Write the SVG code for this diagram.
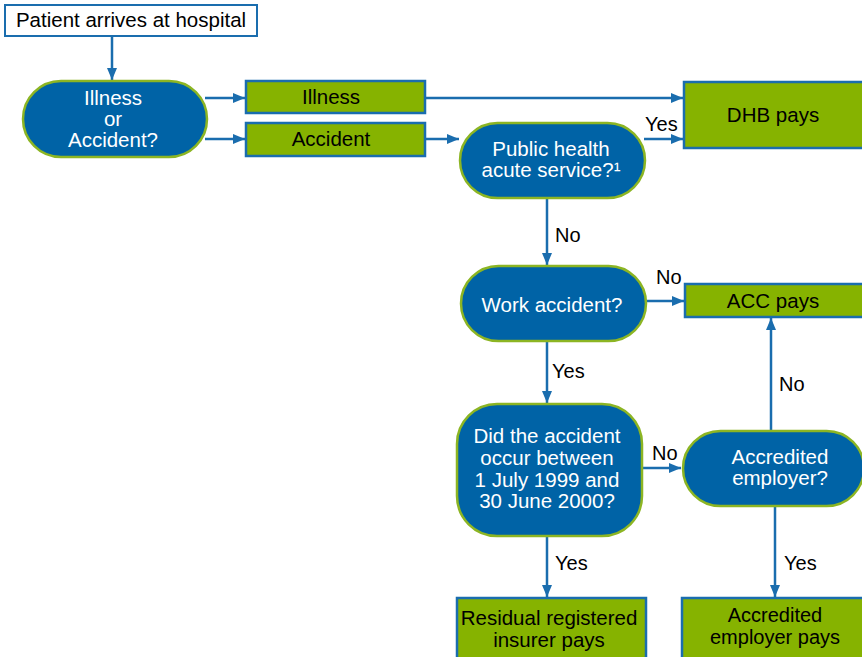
<svg xmlns="http://www.w3.org/2000/svg" width="862" height="657" viewBox="0 0 862 657">
<style>
.dec{fill:#0063a6;stroke:#8cb523;stroke-width:2.5}
.box{fill:#86b300;stroke:#1a6dae;stroke-width:2.5}
.start{fill:#ffffff;stroke:#1a6dae;stroke-width:2}
.w{fill:#ffffff;font-family:"Liberation Sans",Arial,sans-serif;font-size:20.5px;text-anchor:middle}
.k{fill:#000000;font-family:"Liberation Sans",Arial,sans-serif;font-size:20.5px;text-anchor:middle}
.lbl{fill:#000000;font-family:"Liberation Sans",Arial,sans-serif;font-size:20px}
.c{stroke:#1a6dae;stroke-width:2.5;fill:none;marker-end:url(#ah)}
</style>
<defs>
<marker id="ah" viewBox="0 0 12 10" refX="12" refY="5" markerWidth="12" markerHeight="10" markerUnits="userSpaceOnUse" orient="auto">
<path d="M0,0 L12,5 L0,10 Z" fill="#1a6dae"/>
</marker>
</defs>
<g id="connectors">
<line class="c" x1="112" y1="36" x2="112" y2="80"/>
<line class="c" x1="205" y1="98" x2="245" y2="98"/>
<line class="c" x1="205" y1="139" x2="245" y2="139"/>
<line class="c" x1="425" y1="98" x2="683" y2="98"/>
<line class="c" x1="425" y1="139" x2="459" y2="139"/>
<line class="c" x1="644" y1="139" x2="683" y2="139"/>
<line class="c" x1="547" y1="198" x2="547" y2="265"/>
<line class="c" x1="646" y1="301" x2="684" y2="301"/>
<line class="c" x1="547" y1="341" x2="547" y2="403"/>
<line class="c" x1="642" y1="468" x2="681" y2="468"/>
<line class="c" x1="771" y1="430" x2="771" y2="318"/>
<line class="c" x1="547" y1="536" x2="547" y2="597"/>
<line class="c" x1="775" y1="506" x2="775" y2="597"/>
<text class="lbl" x="645" y="131">Yes</text>
<text class="lbl" x="555" y="242">No</text>
<text class="lbl" x="656" y="284">No</text>
<text class="lbl" x="552" y="378">Yes</text>
<text class="lbl" x="652" y="460">No</text>
<text class="lbl" x="779" y="391">No</text>
<text class="lbl" x="555" y="570">Yes</text>
<text class="lbl" x="784" y="570">Yes</text>
</g>
<g id="patient">
<rect class="start" x="5" y="5" width="252" height="31"/>
<text class="k" x="131" y="27">Patient arrives at hospital</text>
</g>
<g id="illness-or-accident">
<rect class="dec" x="23" y="81" width="184" height="76" rx="38"/>
<text class="w" x="113" y="105">Illness</text>
<text class="w" x="113" y="126">or</text>
<text class="w" x="113" y="147">Accident?</text>
</g>
<g id="illness">
<rect class="box" x="246" y="81" width="179" height="32"/>
<text class="k" x="331" y="104">Illness</text>
</g>
<g id="accident">
<rect class="box" x="246" y="123" width="179" height="33"/>
<text class="k" x="331" y="146">Accident</text>
</g>
<g id="dhb-pays">
<rect class="box" x="684" y="82" width="185" height="66"/>
<text class="k" x="773" y="122">DHB pays</text>
</g>
<g id="public-health">
<rect class="dec" x="460" y="123" width="185" height="75" rx="37.5"/>
<text class="w" x="551" y="156">Public health</text>
<text class="w" x="551" y="177">acute service?¹</text>
</g>
<g id="work-accident">
<rect class="dec" x="461" y="266" width="185" height="75" rx="37.5"/>
<text class="w" x="552" y="312">Work accident?</text>
</g>
<g id="acc-pays">
<rect class="box" x="685" y="284" width="185" height="33"/>
<text class="k" x="773" y="308">ACC pays</text>
</g>
<g id="date-question">
<rect class="dec" x="457" y="404" width="185" height="132" rx="40"/>
<text class="w" x="547" y="443">Did the accident</text>
<text class="w" x="547" y="465">occur between</text>
<text class="w" x="547" y="487">1 July 1999 and</text>
<text class="w" x="547" y="508">30 June 2000?</text>
</g>
<g id="accredited-employer">
<rect class="dec" x="683" y="431" width="181" height="75" rx="37.5"/>
<text class="w" x="780" y="464">Accredited</text>
<text class="w" x="780" y="485">employer?</text>
</g>
<g id="residual-insurer">
<rect class="box" x="457" y="598" width="189" height="70"/>
<text class="k" x="549" y="625">Residual registered</text>
<text class="k" x="549" y="647">insurer pays</text>
</g>
<g id="accredited-employer-pays">
<rect class="box" x="682" y="598" width="190" height="70"/>
<text class="k" x="775" y="622" style="font-size:20px">Accredited</text>
<text class="k" x="775" y="644" style="font-size:20px">employer pays</text>
</g>
</svg>
